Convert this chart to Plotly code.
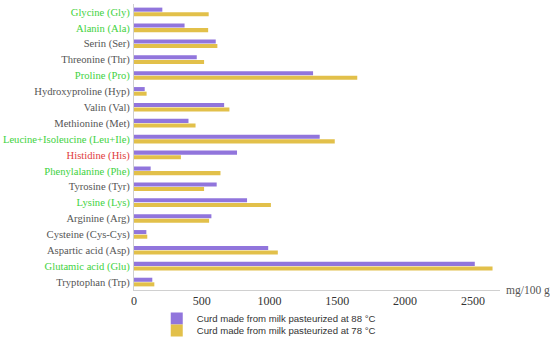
import plotly.graph_objects as go

categories = [
    "Glycine (Gly)", "Alanin (Ala)", "Serin (Ser)", "Threonine (Thr)", "Proline (Pro)",
    "Hydroxyproline (Hyp)", "Valin (Val)", "Methionine (Met)", "Leucine+Isoleucine (Leu+Ile)",
    "Histidine (His)", "Phenylalanine (Phe)", "Tyrosine (Tyr)", "Lysine (Lys)", "Arginine (Arg)",
    "Cysteine (Cys-Cys)", "Aspartic acid (Asp)", "Glutamic acid (Glu)", "Tryptophan (Trp)",
]
label_colors = [
    "#3ed23e", "#3ed23e", "#555555", "#555555", "#3ed23e",
    "#555555", "#555555", "#555555", "#3ed23e",
    "#e03c3c", "#3ed23e", "#555555", "#3ed23e", "#555555",
    "#555555", "#555555", "#3ed23e", "#555555",
]
curd_88 = [209, 373, 603, 463, 1321, 79, 665, 402, 1370, 760, 123, 610, 834, 571, 91, 990, 2514, 135]
curd_78 = [551, 547, 615, 517, 1647, 93, 704, 454, 1481, 346, 638, 517, 1010, 554, 98, 1061, 2645, 150]
x_ticks = [0, 500, 1000, 1500, 2000, 2500]

tick_text = [f'<span style="color:{c}">{t}</span>' for t, c in zip(categories, label_colors)]

fig = go.Figure()
fig.add_trace(go.Bar(y=categories, x=curd_88, orientation="h",
                     name="Curd made from milk pasteurized at 88 °C",
                     marker=dict(color="#9175dc", line=dict(width=0)), legend="legend"))
fig.add_trace(go.Bar(y=categories, x=curd_78, orientation="h",
                     name="Curd made from milk pasteurized at 78 °C",
                     marker=dict(color="#e2c04a", line=dict(width=0)), legend="legend2"))

leg_common = dict(xref="container", yref="container", xanchor="left", yanchor="middle",
                  font=dict(family="Liberation Sans", size=9.6, color="#333333"),
                  itemwidth=30, bgcolor="rgba(0,0,0,0)", borderwidth=0)

fig.update_layout(
    width=550, height=340,
    margin=dict(l=134, r=50, t=4, b=50, autoexpand=False),
    paper_bgcolor="white", plot_bgcolor="white",
    barmode="group", bargap=0.42, bargroupgap=0.12,
    font=dict(family="Liberation Serif", size=11, color="#444444"),
    showlegend=True,
    legend=dict(x=0.285, y=1 - 318.5 / 340, **leg_common),
    legend2=dict(x=0.285, y=1 - 330.5 / 340, **leg_common),
    xaxis=dict(range=[0, 2700], tickvals=x_ticks, showgrid=False, zeroline=False,
               showline=True, linecolor="#d0d0d0", linewidth=1, ticks="", automargin=False,
               tickfont=dict(family="Liberation Serif", size=12, color="#333333")),
    yaxis=dict(autorange="reversed", tickvals=categories, ticktext=tick_text,
               showgrid=False, showline=True, linecolor="#d0d0d0", linewidth=1,
               ticks="", ticklabelstandoff=1, automargin=False,
               tickfont=dict(family="Liberation Serif", size=10.6, color="#555555")),
    annotations=[dict(text="mg/100 g", xref="paper", yref="paper", x=1.012, y=0,
                      xanchor="left", yanchor="middle", showarrow=False,
                      font=dict(family="Liberation Serif", size=11.5, color="#555555"))],
)

fig.write_html("out.html", config={"displayModeBar": False},
               post_script="document.body.style.margin='0';")
